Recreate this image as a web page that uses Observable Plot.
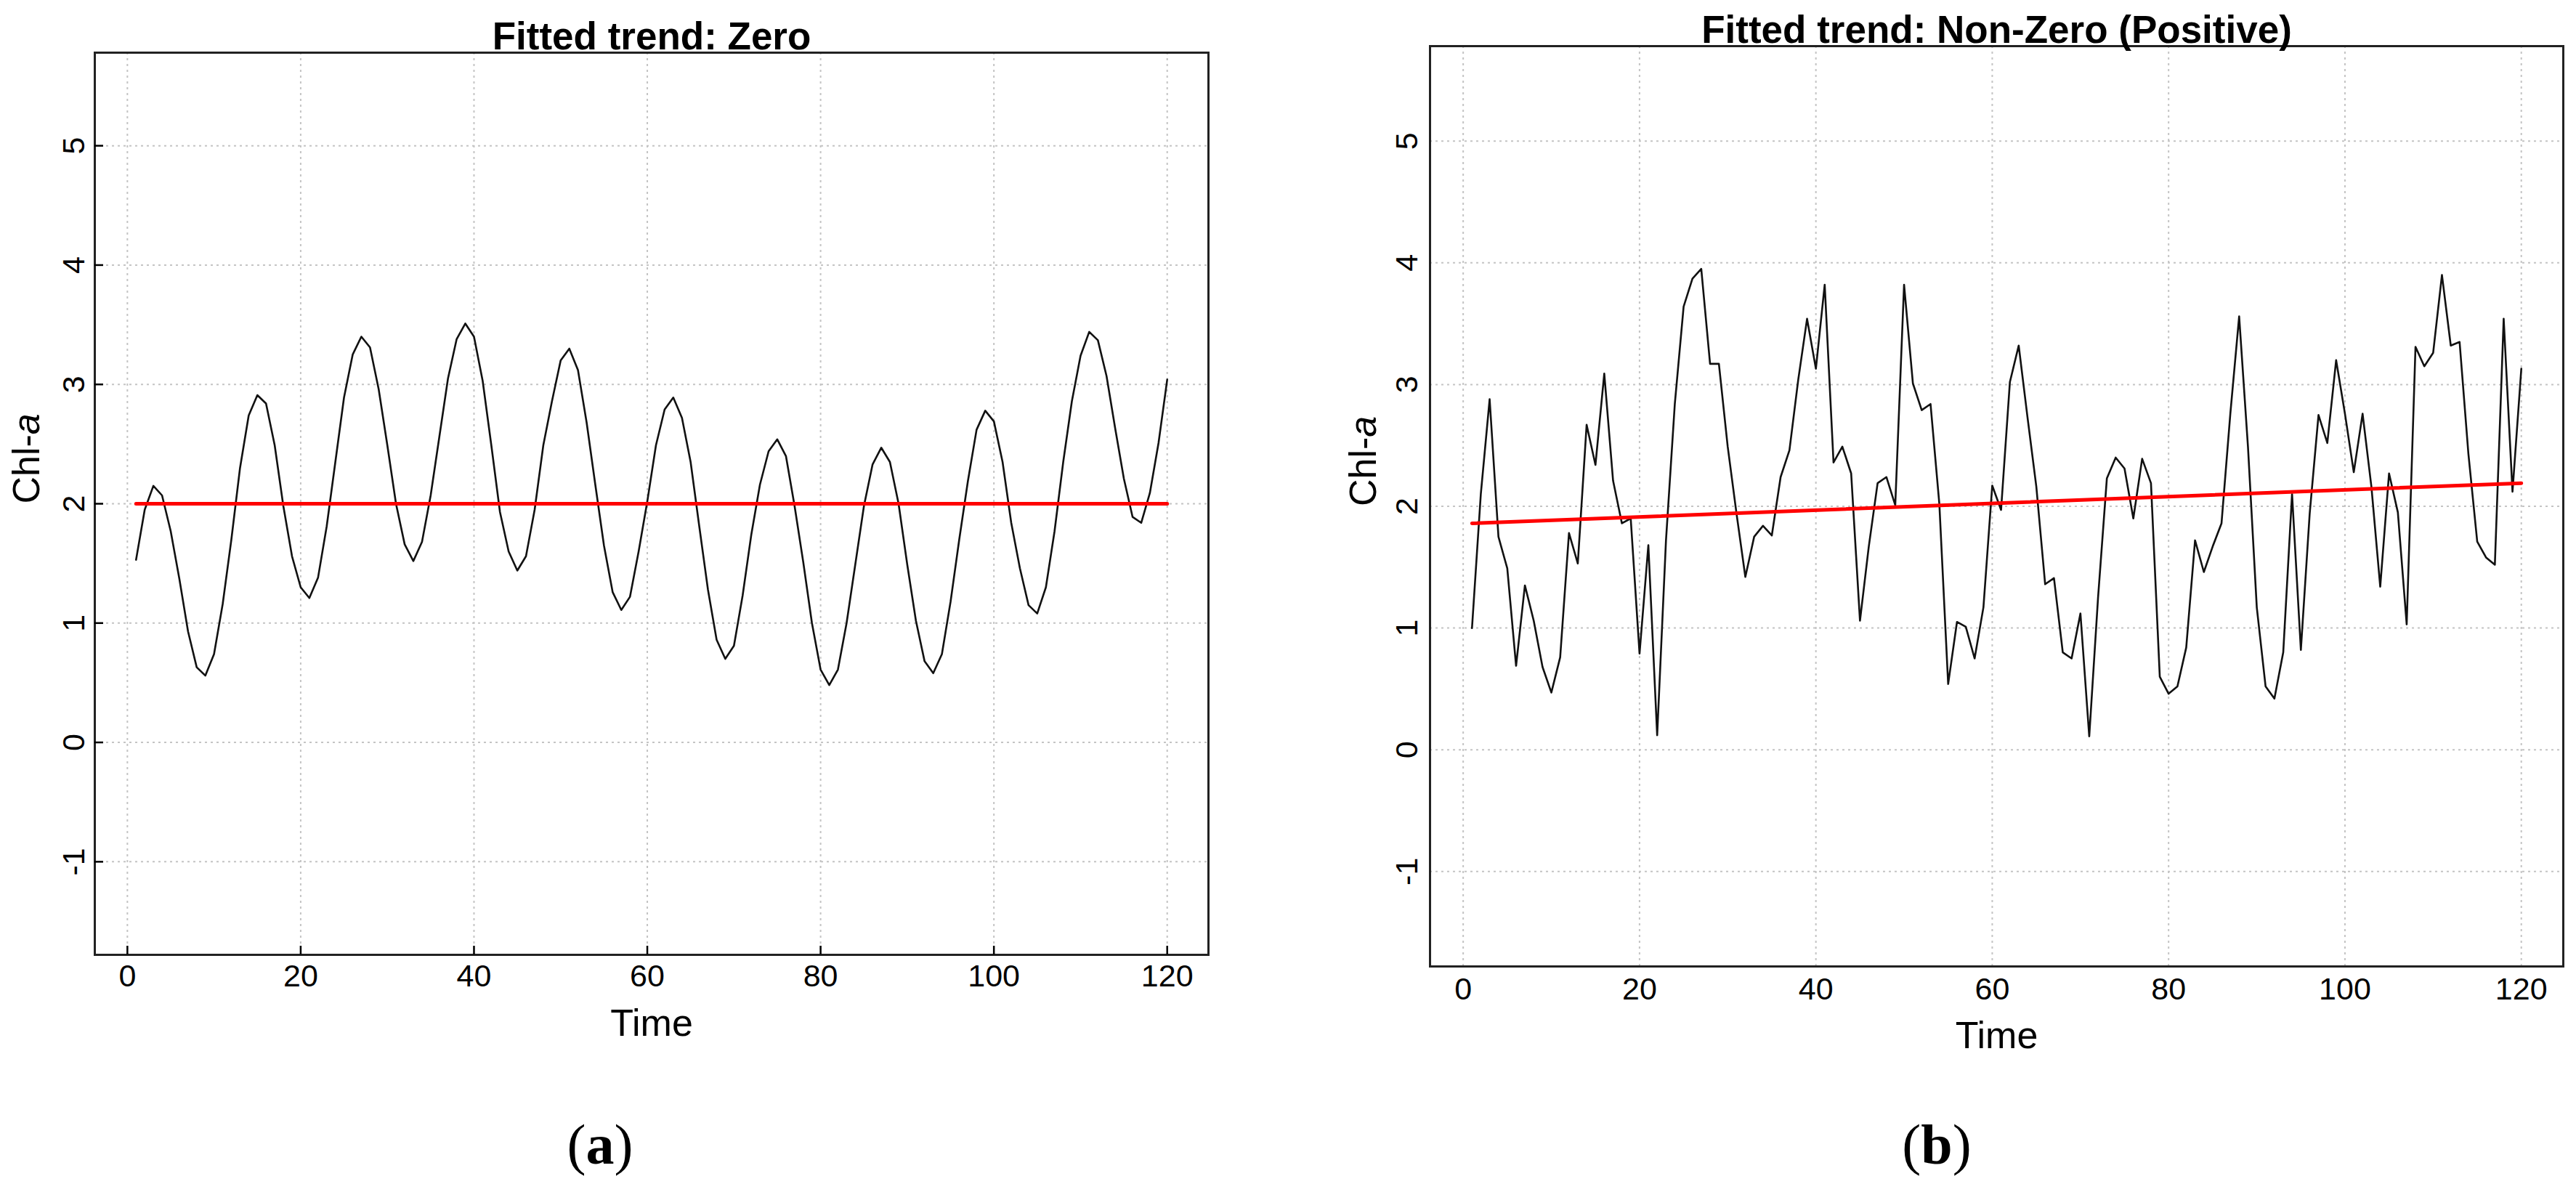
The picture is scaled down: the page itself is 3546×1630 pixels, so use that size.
<!DOCTYPE html>
<html>
<head>
<meta charset="utf-8">
<script src="https://cdn.jsdelivr.net/npm/d3@7"></script>
<script src="https://cdn.jsdelivr.net/npm/@observablehq/plot@0.6"></script>
<style>
  html, body { margin: 0; padding: 0; background: #fff; }
  #wrap { position: relative; width: 3546px; height: 1630px; background: #fff; overflow: hidden; }
  #wrap svg { position: absolute; top: 0; }
  .cap { position: absolute; width: 400px; top: 1537px; font-family: "Liberation Serif", "Times New Roman", serif;
         font-size: 78px; line-height: 78px; text-align: center; color: #000; }
</style>
</head>
<body>
<div id="wrap"></div>
<script>
// ---------- data ----------
const time = d3.range(1, 121); // observation index 1..120

const chlZero = [
  1.53, 1.95, 2.15, 2.07, 1.77, 1.37, 0.93, 0.63, 0.56, 0.74,
  1.16, 1.70, 2.30, 2.74, 2.91, 2.84, 2.49, 1.98, 1.56, 1.30,
  1.21, 1.38, 1.81, 2.35, 2.89, 3.25, 3.40, 3.31, 2.96, 2.49,
  2.00, 1.66, 1.52, 1.68, 2.07, 2.56, 3.05, 3.38, 3.51, 3.40,
  3.03, 2.49, 1.93, 1.60, 1.44, 1.56, 1.95, 2.49, 2.86, 3.20,
  3.30, 3.12, 2.68, 2.16, 1.65, 1.26, 1.11, 1.22, 1.60, 2.02,
  2.49, 2.79, 2.89, 2.72, 2.35, 1.81, 1.28, 0.86, 0.70, 0.81,
  1.23, 1.74, 2.16, 2.44, 2.54, 2.40, 1.98, 1.51, 1.00, 0.61,
  0.48, 0.61, 1.00, 1.49, 1.98, 2.33, 2.47, 2.35, 2.00, 1.49,
  1.02, 0.68, 0.58, 0.74, 1.18, 1.70, 2.19, 2.62, 2.78, 2.69,
  2.35, 1.84, 1.46, 1.15, 1.08, 1.30, 1.77, 2.35, 2.86, 3.24,
  3.44, 3.37, 3.07, 2.63, 2.21, 1.89, 1.84, 2.09, 2.51, 3.04
];

const chlPositive = [
  1.00, 2.10, 2.88, 1.75, 1.49, 0.69, 1.35, 1.06, 0.68, 0.47,
  0.76, 1.78, 1.53, 2.67, 2.34, 3.09, 2.21, 1.86, 1.90, 0.79,
  1.68, 0.12, 1.72, 2.84, 3.64, 3.87, 3.95, 3.17, 3.17, 2.49,
  1.94, 1.42, 1.75, 1.84, 1.76, 2.24, 2.46, 3.04, 3.54, 3.13,
  3.82, 2.36, 2.49, 2.27, 1.06, 1.67, 2.19, 2.24, 2.01, 3.82,
  3.01, 2.79, 2.84, 2.02, 0.54, 1.05, 1.01, 0.75, 1.17, 2.17,
  1.97, 3.02, 3.32, 2.73, 2.16, 1.36, 1.41, 0.80, 0.75, 1.12,
  0.11, 1.25, 2.23, 2.40, 2.31, 1.90, 2.39, 2.19, 0.60, 0.46,
  0.52, 0.84, 1.72, 1.46, 1.67, 1.86, 2.76, 3.56, 2.49, 1.17,
  0.52, 0.42, 0.80, 2.10, 0.82, 1.94, 2.75, 2.52, 3.20, 2.76,
  2.28, 2.76, 2.16, 1.34, 2.27, 1.95, 1.03, 3.31, 3.15, 3.26,
  3.90, 3.32, 3.35, 2.43, 1.71, 1.58, 1.52, 3.54, 2.12, 3.13
];

// fitted trend lines (start and end of each fitted line)
const trendZeroT = [1, 120];
const trendZeroV = [2.0, 2.0];
const trendPosT = [1, 120];
const trendPosV = [1.86, 2.19];

// axes
const xTicks = [0, 20, 40, 60, 80, 100, 120];
const yTicks = [-1, 0, 1, 2, 3, 4, 5];
const xDomain = [-3.76, 124.76];
const yDomain = [-1.78, 5.78];

const titles = ["Fitted trend: Zero", "Fitted trend: Non-Zero (Positive)"];
const xLabel = "Time";
const yLabel = "Chl-a";
const captions = ["a", "b"];

// ---------- drawing ----------
const FONT = "'Liberation Sans', Arial, Helvetica, sans-serif";
const toRows = (ts, vs) => ts.map((t, i) => ({t, v: vs[i]}));
const plain = d => String(d);

function panel(cfg) {
  const gridStyle = {stroke: "#c4c4c4", strokeOpacity: 1, strokeWidth: 2, strokeDasharray: "3,5"};
  const svg = Plot.plot({
    width: cfg.width, height: cfg.height,
    marginLeft: cfg.ml, marginRight: cfg.mr, marginTop: cfg.mt, marginBottom: cfg.mb,
    x: {domain: xDomain},
    y: {domain: yDomain},
    style: {fontFamily: FONT, fontSize: "43px", color: "#000", background: "transparent", overflow: "visible"},
    marks: [
      Plot.gridX(xTicks, gridStyle),
      Plot.gridY(yTicks, gridStyle),
      Plot.line(toRows(time, cfg.series), {x: "t", y: "v", stroke: "#111", strokeWidth: 2.6}),
      Plot.line(toRows(cfg.trendT, cfg.trendV), {x: "t", y: "v", stroke: "#ff0000", strokeWidth: 5}),
      Plot.frame({stroke: "#222", strokeWidth: 3}),
      Plot.axisX(xTicks, {tickSize: cfg.tick, tickPadding: cfg.xpad - cfg.tick, tickFormat: plain, fontSize: 43, label: null, stroke: "#000", strokeWidth: 2.5}),
      Plot.axisY(yTicks, {tickSize: cfg.tick, tickPadding: cfg.ypad - cfg.tick, tickFormat: plain, tickRotate: -90, fontSize: 43, label: null, stroke: "#000", strokeWidth: 2.5}),
      Plot.text([cfg.title], {frameAnchor: "top", dy: -5, lineAnchor: "bottom", fontSize: 53, fontWeight: "bold"}),
      Plot.text([xLabel], {frameAnchor: "bottom", dy: cfg.xlabDy, lineAnchor: "bottom", fontSize: 52}),
      Plot.text([yLabel], {frameAnchor: "left", dx: cfg.ylabDx, rotate: -90, lineAnchor: "bottom", fontSize: 52, className: "ylab"})
    ]
  });
  svg.style.left = cfg.left + "px";
  // italic "a" in Chl-a
  const t = svg.querySelector(".ylab text");
  if (t) {
    t.textContent = "Chl-";
    const ts = document.createElementNS("http://www.w3.org/2000/svg", "tspan");
    ts.setAttribute("font-style", "italic");
    ts.textContent = "a";
    t.appendChild(ts);
  }
  return svg;
}

const wrap = document.getElementById("wrap");

wrap.appendChild(panel({
  left: 0, width: 1700, height: 1480, ml: 130, mr: 37, mt: 72, mb: 166,
  series: chlZero, trendT: trendZeroT, trendV: trendZeroV, title: titles[0],
  tick: -12, xpad: 13, ypad: 15, xlabDy: 111, ylabDx: -77
}));

wrap.appendChild(panel({
  left: 1760, width: 1786, height: 1480, ml: 208, mr: 18, mt: 63, mb: 150,
  series: chlPositive, trendT: trendPosT, trendV: trendPosV, title: titles[1],
  tick: 0, xpad: 15, ypad: 18, xlabDy: 112, ylabDx: -75
}));

[[626, captions[0]], [2466, captions[1]]].forEach(([x, c]) => {
  const d = document.createElement("div");
  d.className = "cap";
  d.style.left = x + "px";
  d.innerHTML = "(<b>" + c + "</b>)";
  wrap.appendChild(d);
});
</script>
</body>
</html>
